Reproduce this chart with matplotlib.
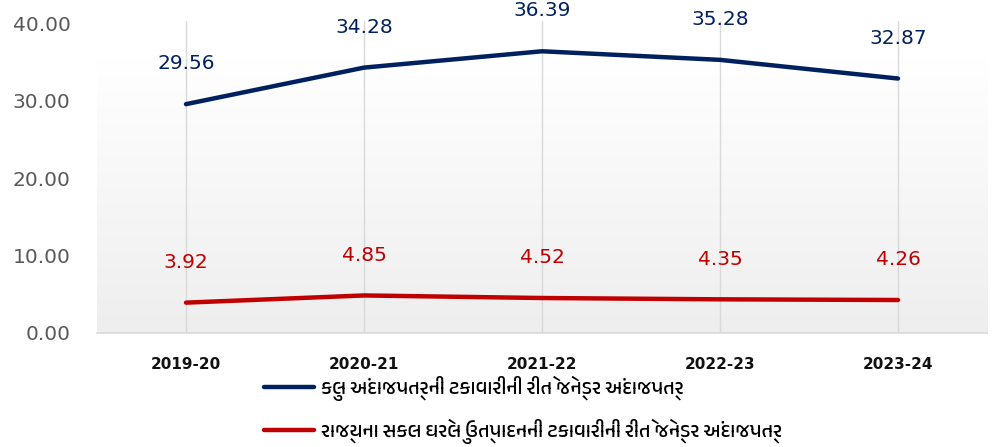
import numpy as np
import matplotlib
matplotlib.use("Agg")
import matplotlib.pyplot as plt
from matplotlib import font_manager as fm
from matplotlib.colors import LinearSegmentedColormap

categories = ["2019-20", "2020-21", "2021-22", "2022-23", "2023-24"]
total_budget_pct = [29.56, 34.28, 36.39, 35.28, 32.87]
gsdp_pct = [3.92, 4.85, 4.52, 4.35, 4.26]
series_names = [
    "કુલ અંદાજપત્રની ટકાવારીની રીતે જેન્ડર અંદાજપત્ર",
    "રાજ્યના સકલ ઘરેલુ ઉત્પાદનની ટકાવારીની રીતે જેન્ડર અંદાજપત્ર",
]
yticks = [0, 10, 20, 30, 40]

# find a Gujarati-capable font if any
guj = None
for f in fm.fontManager.ttflist:
    n = (f.name + " " + f.fname).lower()
    if "gujarati" in n or "shruti" in n or "lohit-gu" in n:
        guj = f.name
        break
leg_family = [guj, "DejaVu Sans"] if guj else ["Noto Sans", "DejaVu Sans"]

BLUE = "#002060"
RED = "#c00000"

fig = plt.figure(figsize=(9.96, 4.47), dpi=100)
ax = fig.add_axes([97/996, 1 - 333/447, (987-97)/996, (333-21)/447])
x = np.arange(len(categories))
ax.set_xlim(-0.5, len(categories) - 0.5)
ax.set_ylim(0, 40.3)

# gradient background (white at top, light grey at bottom)
grad = np.linspace(0, 1, 256).reshape(-1, 1)
cmap = LinearSegmentedColormap.from_list("g", [(0, "#ffffff"), (0.12, "#ffffff"), (1, "#eeeeee")])
ax.imshow(grad, extent=(-0.5, len(categories) - 0.5, 0, 40.3), aspect="auto",
          cmap=cmap, origin="upper", zorder=0)

for xi in x:
    ax.axvline(xi, color="#d9d9d9", lw=1, zorder=1)

l1, = ax.plot(x, total_budget_pct, color=BLUE, lw=3.2, solid_capstyle="round", zorder=3)
l2, = ax.plot(x, gsdp_pct, color=RED, lw=3.2, solid_capstyle="round", zorder=3)

for xi, v in zip(x, total_budget_pct):
    ax.annotate(f"{v:.2f}", (xi, v), xytext=(0, 29), textcoords="offset points",
                ha="center", va="center", color=BLUE, fontsize=14.5)
for xi, v in zip(x, gsdp_pct):
    ax.annotate(f"{v:.2f}", (xi, v), xytext=(0, 29), textcoords="offset points",
                ha="center", va="center", color=RED, fontsize=14.5)

for s in ["top", "right", "left"]:
    ax.spines[s].set_visible(False)
ax.spines["bottom"].set_color("#d9d9d9")
ax.spines["bottom"].set_linewidth(1.2)

ax.set_yticks(yticks)
ax.set_yticklabels([f"{t:.2f}" for t in yticks], fontsize=14.5, color="#595959")
ax.set_xticks(x)
ax.set_xticklabels(categories, fontsize=11, fontweight="bold", color="#111111")
ax.tick_params(axis="both", length=0)
ax.tick_params(axis="x", pad=17)
ax.tick_params(axis="y", pad=19)

fig.legend([l1, l2], series_names, loc="upper left", bbox_to_anchor=(246/996, 1 - 358/447),
           frameon=False, prop={"family": leg_family, "size": 14.5}, handlelength=2.5,
           labelspacing=0.85, handletextpad=0.3, borderpad=0.4)

fig.savefig("out.png", dpi=100)
